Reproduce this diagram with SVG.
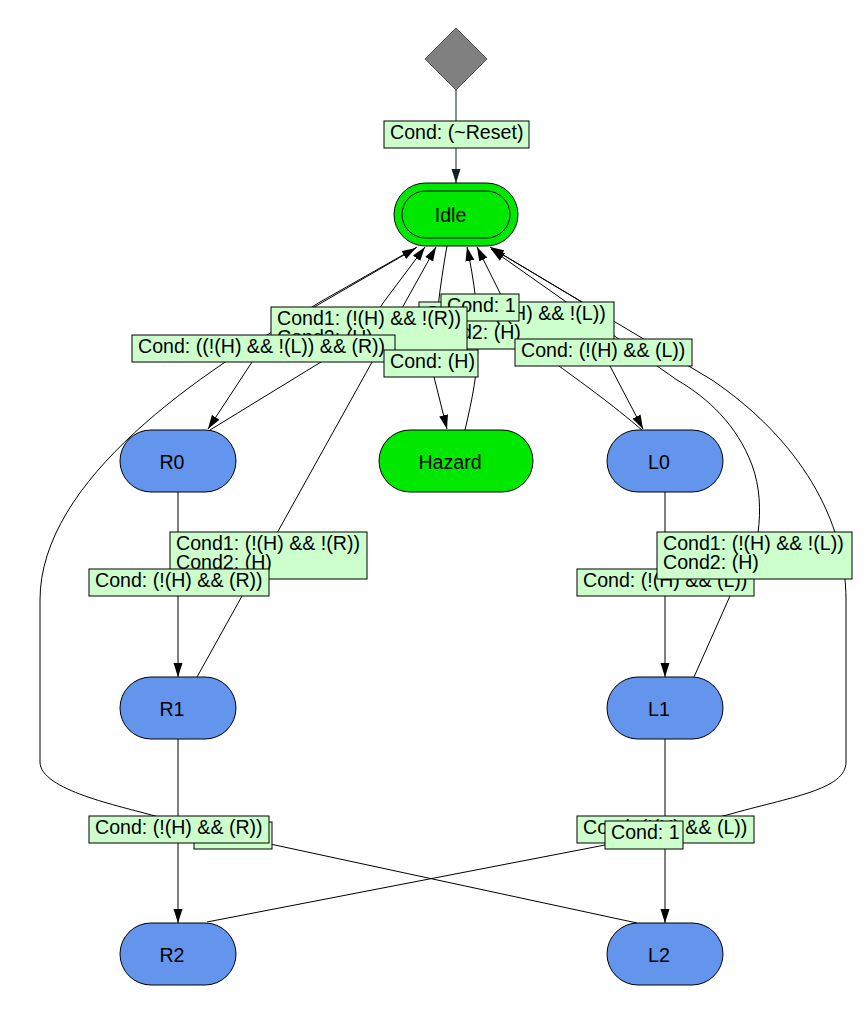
<svg xmlns="http://www.w3.org/2000/svg" width="867" height="1016" viewBox="0 0 867 1016">
  <style>
    text { font-family: "Liberation Sans", Arial, sans-serif; font-size: 19.6px; fill: #000; }
    .node-label { text-anchor: middle; }
    .edge { fill: none; stroke: #000; stroke-width: 1; marker-end: url(#arrow); }
    .edge-plain { fill: none; stroke: #000; stroke-width: 1; }
    .lbl rect { fill: #ccffcc; stroke: #000; stroke-width: 1; }
    .state rect { fill: #6495ed; stroke: #000; stroke-width: 1; }
    .green rect { fill: #00e800; stroke: #000; stroke-width: 1; }
  </style>
  <defs>
    <marker id="arrow" markerUnits="userSpaceOnUse" markerWidth="14" markerHeight="10" refX="14" refY="5" orient="auto">
      <path d="M0,0.5 L14,5 L0,9.5 z" fill="#000"/>
    </marker>
    <marker id="arrow-reset" markerUnits="userSpaceOnUse" markerWidth="14" markerHeight="10" refX="14" refY="5" orient="auto">
      <path d="M0,0.5 L14,5 L0,9.5 z" fill="#0b2626"/>
    </marker>
  </defs>

  <!-- transitions -->
  <g id="connectors">
    <path d="M456,90 L456,183" fill="none" stroke="#0b2626" stroke-width="1" marker-end="url(#arrow-reset)"/>
    <!-- Idle -> R0 -->
    <path class="edge" d="M417,247 L320,302 C290,320 262,345 252,362 L208,429"/>
    <!-- L2 -> Idle -->
    <path class="edge" d="M637,923 L233,836 L155,816 C120,806 40,790 40,762 L40,600 C40,480 200,372 316,306 L416,248"/>
    <!-- R0 -> Idle -->
    <path class="edge" d="M210,430 L321,362 C350,343 372,322 383,303 L425,247"/>
    <!-- R1 -> Idle -->
    <path class="edge" d="M197,677 L436,247"/>
    <!-- Idle -> Hazard -->
    <path class="edge" d="M447,246 C440,285 434,330 434,377 L447,429"/>
    <!-- Hazard -> Idle -->
    <path class="edge" d="M465,430 C472,400 478,372 478,340 C478,310 474,280 467,247"/>
    <!-- L0 -> Idle -->
    <path class="edge" d="M643,431 C612,404 578,380 559,366 C530,342 510,316 501,295 L477,247"/>
    <!-- Idle -> L0 -->
    <path class="edge" d="M493,249 L582,302 C597,315 605,340 610,366 L643,429"/>
    <!-- L1 -> Idle -->
    <path class="edge" d="M694,677 L758,533 C761,510 760,487 752,465 C737,425 708,398 677,380 L491,249"/>
    <!-- R2 -> Idle -->
    <path class="edge" d="M207,922 L605,845 L727,815 C790,797 846,790 846,762 L846,600 C846,520 800,440 712,380 L490,247"/>
    <!-- column transitions -->
    <path class="edge" d="M178,492 L178,677"/>
    <path class="edge" d="M178,739 L178,923"/>
    <path class="edge" d="M665,492 L665,677"/>
    <path class="edge" d="M665,739 L665,923"/>
  </g>

  <!-- transition conditions -->
  <g id="edge-labels" class="lbl">
    <rect x="384" y="121" width="145" height="27"/>
    <text x="390" y="139">Cond: (~Reset)</text>

    <rect x="419" y="302" width="195" height="47"/>
    <text x="425" y="320">Cond1: (!(H) &amp;&amp; !(L))</text>
    <text x="425" y="339">Cond2: (H)</text>

    <rect x="441" y="294" width="78" height="27"/>
    <text x="447" y="312">Cond: 1</text>

    <rect x="271" y="307" width="196" height="47"/>
    <text x="277" y="325">Cond1: (!(H) &amp;&amp; !(R))</text>
    <text x="277" y="344">Cond2: (H)</text>

    <rect x="132" y="335" width="263" height="27"/>
    <text x="138" y="353">Cond: ((!(H) &amp;&amp; !(L)) &amp;&amp; (R))</text>

    <rect x="384" y="350" width="94" height="27"/>
    <text x="390" y="368">Cond: (H)</text>

    <rect x="515" y="339" width="177" height="27"/>
    <text x="521" y="357">Cond: (!(H) &amp;&amp; (L))</text>

    <rect x="170" y="532" width="197" height="47"/>
    <text x="176" y="550">Cond1: (!(H) &amp;&amp; !(R))</text>
    <text x="176" y="569">Cond2: (H)</text>

    <rect x="89" y="569" width="180" height="27"/>
    <text x="95" y="587">Cond: (!(H) &amp;&amp; (R))</text>

    <rect x="577" y="569" width="177" height="27"/>
    <text x="583" y="587">Cond: (!(H) &amp;&amp; (L))</text>

    <rect x="657" y="532" width="195" height="47"/>
    <text x="663" y="550">Cond1: (!(H) &amp;&amp; !(L))</text>
    <text x="663" y="569">Cond2: (H)</text>

    <rect x="194" y="822" width="78" height="27"/>
    <text x="200" y="840">Cond: 1</text>

    <rect x="89" y="816" width="180" height="27"/>
    <text x="95" y="834">Cond: (!(H) &amp;&amp; (R))</text>

    <rect x="577" y="816" width="177" height="27"/>
    <text x="583" y="834">Cond: (!(H) &amp;&amp; (L))</text>

    <rect x="605" y="821" width="78" height="28"/>
    <text x="611" y="839">Cond: 1</text>
  </g>

  <!-- states -->
  <g id="reset">
    <polygon points="456,28 487,59 456,90 425,59" fill="#808080" stroke="#505050" stroke-width="1"/>
  </g>
  <g id="idle" class="green">
    <rect x="394" y="183" width="124" height="63" rx="31.5" ry="31.5"/>
    <rect x="402" y="191" width="108" height="47" rx="23.5" ry="23.5" fill="none" style="fill:none"/>
    <text class="node-label" x="450.5" y="222">Idle</text>
  </g>
  <g id="hazard" class="green">
    <rect x="379" y="430" width="154" height="62" rx="31" ry="31"/>
    <text class="node-label" x="450" y="469">Hazard</text>
  </g>
  <g id="r0" class="state">
    <rect x="120" y="430" width="116" height="62" rx="31" ry="31"/>
    <text class="node-label" x="172" y="469">R0</text>
  </g>
  <g id="r1" class="state">
    <rect x="120" y="677" width="116" height="62" rx="31" ry="31"/>
    <text class="node-label" x="172" y="716">R1</text>
  </g>
  <g id="r2" class="state">
    <rect x="120" y="923" width="116" height="62" rx="31" ry="31"/>
    <text class="node-label" x="172" y="962">R2</text>
  </g>
  <g id="l0" class="state">
    <rect x="607" y="430" width="116" height="62" rx="31" ry="31"/>
    <text class="node-label" x="659" y="469">L0</text>
  </g>
  <g id="l1" class="state">
    <rect x="607" y="677" width="116" height="62" rx="31" ry="31"/>
    <text class="node-label" x="659" y="716">L1</text>
  </g>
  <g id="l2" class="state">
    <rect x="607" y="923" width="116" height="62" rx="31" ry="31"/>
    <text class="node-label" x="659" y="962">L2</text>
  </g>
</svg>
